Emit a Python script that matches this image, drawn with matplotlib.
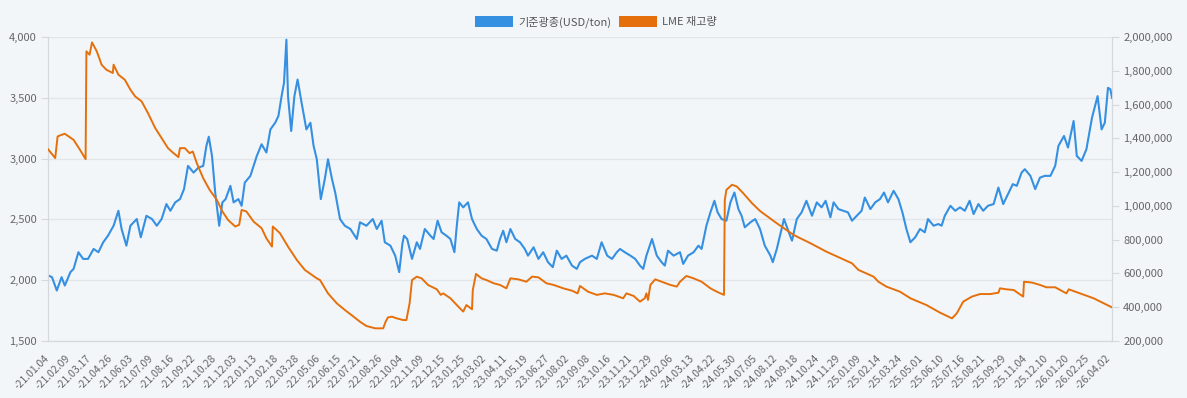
import numpy as np
import matplotlib
matplotlib.use("Agg")
import matplotlib.pyplot as plt
import matplotlib.transforms as mtransforms
from matplotlib.patches import Patch
from matplotlib.ticker import FuncFormatter

plt.rcParams["font.family"] = ["Noto Sans CJK KR", "DejaVu Sans"]

# x = trading-day number since 2021-01-04 (one label every 26 trading days)
tick_labels = [
    "21.01.04", "21.02.09", "21.03.17", "21.04.26", "21.06.03", "21.07.09", "21.08.16",
    "21.09.22", "21.10.28", "21.12.03", "22.01.13", "22.02.18", "22.03.28", "22.05.06",
    "22.06.15", "22.07.21", "22.08.26", "22.10.04", "22.11.09", "22.12.15", "23.01.25",
    "23.03.02", "23.04.11", "23.05.19", "23.06.27", "23.08.02", "23.09.08", "23.10.16",
    "23.11.21", "23.12.29", "24.02.06", "24.03.13", "24.04.22", "24.05.30", "24.07.05",
    "24.08.12", "24.09.18", "24.10.24", "24.11.29", "25.01.09", "25.02.14", "25.03.24",
    "25.05.01", "25.06.10", "25.07.16", "25.08.21", "25.09.29", "25.11.04", "25.12.10",
    "26.01.20", "26.02.25", "26.04.02",
]
label_step = 26

price_day = [
    0, 5, 11, 17, 21, 28, 32, 38, 44, 50, 57, 63, 69, 75, 82, 88, 92, 98, 103, 111, 116,
    123, 130, 136, 142, 148, 153, 159, 165, 170, 175, 182, 188, 194, 198, 201, 205, 209,
    214, 218, 222, 228, 232, 238, 242, 246, 253, 257, 261, 267, 273, 278, 284, 288, 292,
    295, 298, 300, 304, 308, 312, 317, 323, 328, 332, 336, 341, 346, 350, 355, 359, 365,
    371, 378, 386, 390, 398, 406, 411, 417, 421, 428, 434, 439, 443, 445, 449, 455, 461,
    465, 471, 478, 482, 487, 492, 498, 503, 508, 511, 514, 519, 525, 530, 536, 542, 548,
    555, 561, 565, 569, 573, 578, 584, 590, 596, 600, 607, 613, 619, 625, 631, 636, 642,
    648, 655, 661, 665, 671, 680, 686, 692, 699, 705, 711, 715, 721, 728, 734, 740, 744,
    748, 755, 761, 767, 771, 775, 782, 790, 794, 800, 807, 813, 817, 823, 828, 833, 837,
    842, 848, 853, 858, 863, 867, 871, 878, 884, 890, 896, 903, 906, 911, 915, 920, 926,
    930, 936, 942, 948, 955, 961, 967, 972, 978, 982, 988, 994, 1000, 1005, 1011, 1017,
    1021, 1028, 1034, 1040, 1045, 1050, 1057, 1063, 1068, 1073, 1078, 1084, 1090, 1096,
    1100, 1107, 1113, 1117, 1121, 1128, 1134, 1140, 1146, 1152, 1157, 1163, 1169, 1175,
    1182, 1188, 1194, 1200, 1206, 1211, 1217, 1221, 1228, 1234, 1240, 1246, 1253, 1259,
    1263, 1270, 1275, 1282, 1286, 1292, 1298, 1305, 1312, 1317, 1321, 1325, 1328, 1330,
]
price_usd = [
    2040, 2025, 1915, 2025, 1956, 2066, 2093, 2230, 2175, 2175, 2257, 2230, 2312, 2366,
    2448, 2571, 2421, 2284, 2448, 2503, 2353, 2530, 2503, 2448, 2503, 2626, 2571, 2640,
    2667, 2749, 2940, 2885, 2926, 2940, 3104, 3180, 3022, 2721, 2448, 2640, 2667, 2776,
    2640, 2667, 2612, 2803, 2858, 2940, 3022, 3118, 3050, 3240, 3295, 3350, 3514, 3623,
    3978, 3514, 3227, 3514, 3650, 3459, 3240, 3295, 3104, 2995, 2667, 2831, 2995, 2831,
    2721, 2503, 2448, 2421, 2339, 2476, 2448, 2503, 2421, 2489, 2312, 2284, 2202, 2066,
    2300, 2366, 2339, 2175, 2312, 2257, 2421, 2366, 2339, 2489, 2394, 2366, 2339, 2230,
    2448, 2640, 2599, 2640, 2503, 2421, 2366, 2339, 2257, 2243, 2339, 2407, 2312, 2421,
    2339, 2312, 2257, 2202, 2271, 2175, 2230, 2148, 2107, 2243, 2175, 2202, 2120, 2093,
    2148, 2175, 2202, 2175, 2312, 2202, 2175, 2230, 2257, 2230, 2202, 2175, 2120, 2093,
    2202, 2339, 2202, 2148, 2120, 2243, 2202, 2230, 2134, 2202, 2230, 2284, 2257, 2448,
    2558, 2653, 2558, 2503, 2489, 2640, 2721, 2585, 2530, 2435, 2476, 2503, 2421, 2284,
    2202, 2148, 2257, 2366, 2503, 2394, 2325, 2503, 2558, 2653, 2530, 2640, 2599, 2653,
    2517, 2640, 2585, 2571, 2558, 2489, 2530, 2571, 2680, 2585, 2640, 2667, 2721, 2640,
    2735, 2667, 2558, 2421, 2312, 2353, 2421, 2394, 2503, 2448, 2462, 2448, 2530, 2612,
    2571, 2599, 2571, 2653, 2544, 2626, 2571, 2612, 2626, 2762, 2626, 2708, 2790, 2776,
    2885, 2913, 2858, 2749, 2844, 2858, 2858, 2940, 3104, 3186, 3091, 3309, 3022, 2981,
    3077, 3336, 3514, 3240, 3295, 3582, 3570, 3500,
]

stock_day = [
    0, 9, 12, 17, 21, 32, 40, 47, 48, 52, 55, 61, 67, 73, 81, 82, 88, 96, 103, 109, 117,
    125, 134, 142, 150, 157, 163, 165, 171, 177, 181, 186, 194, 202, 211, 215, 218, 225,
    234, 239, 242, 248, 257, 267, 273, 280, 281, 290, 300, 311, 321, 330, 336, 340, 350,
    361, 371, 382, 390, 398, 409, 419, 422, 425, 430, 436, 444, 448, 452, 455, 461, 467,
    475, 486, 491, 494, 503, 511, 519, 523, 530, 531, 535, 542, 548, 557, 565, 573, 578,
    588, 598, 605, 613, 623, 632, 644, 655, 662, 665, 675, 686, 696, 707, 719, 723, 732,
    740, 746, 748, 750, 753, 759, 767, 778, 786, 790, 798, 807, 817, 828, 836, 845, 846,
    848, 855, 861, 869, 880, 890, 911, 932, 953, 973, 994, 1005, 1013, 1032, 1038, 1048,
    1065, 1078, 1098, 1115, 1130, 1136, 1144, 1155, 1165, 1178, 1188, 1190, 1198, 1207,
    1219, 1220, 1230, 1240, 1248, 1259, 1273, 1276, 1290, 1307, 1330,
]
stock_ton = [
    1336000, 1283000, 1411000, 1421000, 1427000, 1391000, 1332000, 1277000, 1915000,
    1895000, 1968000, 1915000, 1836000, 1806000, 1787000, 1836000, 1777000, 1747000,
    1688000, 1648000, 1619000, 1549000, 1461000, 1401000, 1342000, 1312000, 1289000,
    1342000, 1342000, 1312000, 1322000, 1253000, 1164000, 1095000, 1036000, 996000,
    967000, 917000, 878000, 888000, 976000, 967000, 907000, 868000, 808000, 759000,
    878000, 838000, 759000, 680000, 621000, 591000, 571000, 561000, 482000, 423000,
    384000, 344000, 314000, 289000, 275000, 275000, 314000, 340000, 344000, 334000,
    324000, 324000, 423000, 561000, 581000, 571000, 532000, 506000, 473000, 482000,
    453000, 413000, 374000, 413000, 388000, 502000, 597000, 571000, 561000, 542000,
    532000, 512000, 571000, 565000, 551000, 581000, 577000, 542000, 532000, 512000,
    498000, 482000, 526000, 492000, 473000, 482000, 473000, 453000, 482000, 467000,
    433000, 453000, 482000, 443000, 532000, 565000, 551000, 532000, 522000, 551000,
    585000, 571000, 551000, 512000, 492000, 473000, 1036000, 1095000, 1125000, 1115000,
    1075000, 1016000, 970000, 897000, 828000, 779000, 729000, 684000, 660000, 621000,
    581000, 551000, 522000, 492000, 453000, 413000, 368000, 334000, 364000, 433000,
    463000, 478000, 478000, 486000, 512000, 506000, 502000, 463000, 551000, 546000,
    532000, 518000, 518000, 482000, 506000, 482000, 453000, 399000,
]

BG = "#f3f6f9"
BLUE = "#3590e2"
ORANGE = "#e5700b"
TXT = "#666666"
LINE = "#d5d9de"

fig = plt.figure(figsize=(11.87, 3.98), dpi=100, facecolor=BG)
ax = fig.add_axes([48 / 1187, 1 - 341 / 398, 1064 / 1187, 304 / 398])
ax.set_facecolor(BG)
ax2 = ax.twinx()

ax.plot(price_day, price_usd, color=BLUE, lw=1.5, zorder=3)
ax2.plot(stock_day, stock_ton, color=ORANGE, lw=1.4, zorder=3)

ax.set_xlim(0, 1330)
ax.set_ylim(1500, 4000)
ax2.set_ylim(200000, 2000000)
ax.set_yticks(np.arange(1500, 4001, 500))
ax2.set_yticks(np.arange(200000, 2000001, 200000))

fmt = FuncFormatter(lambda v, p: f"{v:,.0f}")
ax.yaxis.set_major_formatter(fmt)
ax2.yaxis.set_major_formatter(fmt)

ax.set_xticks(np.arange(len(tick_labels)) * label_step)
ax.set_xticklabels(["-" + t for t in tick_labels], rotation=45, ha="right",
                   va="center", rotation_mode="anchor")
offset = mtransforms.ScaledTranslation(6 / 100, 0, fig.dpi_scale_trans)
for lab in ax.get_xticklabels():
    lab.set_transform(lab.get_transform() + offset)

ax.grid(axis="y", color="#e2e5e9", lw=0.9)
ax.set_axisbelow(True)

for a in (ax, ax2):
    for s in a.spines.values():
        s.set_color(LINE)
    a.spines["top"].set_visible(False)
ax.tick_params(axis="x", length=0, pad=11, labelsize=7.5, labelcolor=TXT)
ax.tick_params(axis="y", length=5, color=LINE, labelsize=8, labelcolor=TXT, pad=3)
ax2.tick_params(axis="y", length=5, color=LINE, labelsize=8, labelcolor=TXT, pad=3)

handles = [Patch(facecolor=BLUE, edgecolor="none"), Patch(facecolor=ORANGE, edgecolor="none")]
fig.legend(handles, ["기준광종(USD/ton)", "LME 재고량"], loc="center",
           bbox_to_anchor=(596 / 1187, 1 - 22 / 398), ncol=2, frameon=False,
           fontsize=8, labelcolor="#555555", handlelength=3.4, handleheight=1.2,
           handletextpad=0.45, columnspacing=0.7)

fig.savefig("out.png", dpi=100, facecolor=BG)
